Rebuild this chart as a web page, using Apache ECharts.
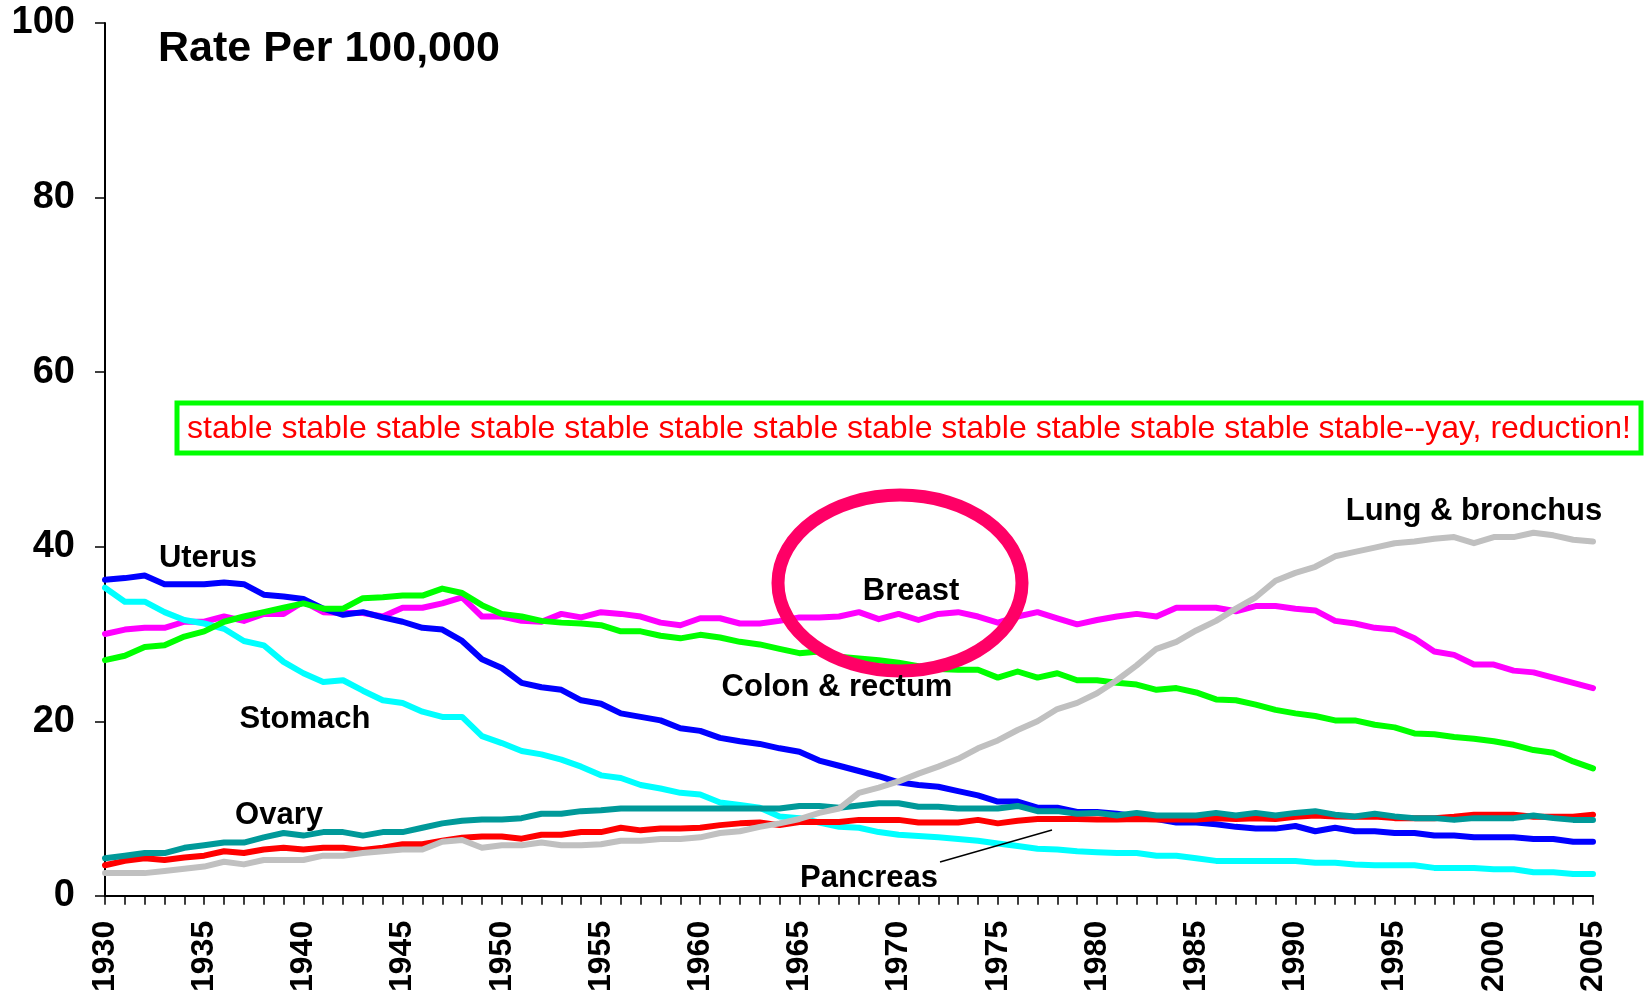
<!DOCTYPE html>
<html>
	<head>
		<meta charset="utf-8">
		<title>Rate Per 100,000</title>
		<script src="https://cdn.jsdelivr.net/npm/echarts/dist/echarts.min.js"></script>
		<style>
			body { margin: 0; background: #fff; }
			#main { width: 1645px; height: 995px; }
		</style>
	</head>
	<body>
		<div id="main"></div>
	</body>
<script>
	// categories (years) and series values
	var years = ['1930','1931','1932','1933','1934','1935','1936','1937','1938','1939','1940','1941','1942','1943','1944','1945','1946','1947','1948','1949','1950','1951','1952','1953','1954','1955','1956','1957','1958','1959','1960','1961','1962','1963','1964','1965','1966','1967','1968','1969','1970','1971','1972','1973','1974','1975','1976','1977','1978','1979','1980','1981','1982','1983','1984','1985','1986','1987','1988','1989','1990','1991','1992','1993','1994','1995','1996','1997','1998','1999','2000','2001','2002','2003','2004','2005'];
	var yTicks = [0, 20, 40, 60, 80, 100];

	var uterus = [36.2,36.4,36.7,35.7,35.7,35.7,35.9,35.7,34.5,34.3,34.0,32.9,32.2,32.5,31.9,31.4,30.7,30.5,29.2,27.1,26.1,24.4,23.9,23.6,22.4,22.0,20.9,20.5,20.1,19.2,18.9,18.1,17.7,17.4,16.9,16.5,15.5,14.9,14.3,13.7,13.0,12.7,12.5,12.0,11.5,10.8,10.8,10.1,10.1,9.6,9.6,9.4,9.1,8.8,8.4,8.4,8.2,7.9,7.7,7.7,8.0,7.4,7.8,7.4,7.4,7.2,7.2,6.9,6.9,6.7,6.7,6.7,6.5,6.5,6.2,6.2];
	var stomach = [35.3,33.7,33.7,32.5,31.6,31.2,30.6,29.2,28.7,26.8,25.5,24.5,24.7,23.5,22.4,22.1,21.1,20.5,20.5,18.3,17.5,16.6,16.2,15.6,14.8,13.8,13.5,12.7,12.3,11.8,11.6,10.7,10.4,10.1,9.1,8.9,8.4,7.9,7.8,7.3,7.0,6.85,6.7,6.5,6.3,6.0,5.7,5.4,5.3,5.1,5.0,4.9,4.9,4.6,4.6,4.3,4.0,4.0,4.0,4.0,4.0,3.8,3.8,3.6,3.5,3.5,3.5,3.2,3.2,3.2,3.05,3.05,2.7,2.7,2.5,2.5];
	var breast = [30.0,30.5,30.7,30.7,31.4,31.4,32.0,31.5,32.3,32.3,33.7,32.5,32.4,32.4,32.0,33.0,33.0,33.5,34.2,32.0,32.0,31.5,31.4,32.3,31.9,32.5,32.3,32.0,31.3,31.0,31.8,31.8,31.2,31.2,31.5,31.9,31.9,32.0,32.5,31.7,32.3,31.6,32.3,32.5,32.0,31.3,32.0,32.5,31.8,31.1,31.6,32.0,32.3,32.0,33.0,33.0,33.0,32.6,33.2,33.2,32.9,32.7,31.5,31.2,30.7,30.5,29.5,28.0,27.6,26.5,26.5,25.8,25.6,25.0,24.4,23.8];
	var colon = [27.0,27.5,28.5,28.7,29.7,30.3,31.4,32.0,32.5,33.0,33.5,32.9,32.9,34.1,34.2,34.4,34.4,35.2,34.7,33.3,32.3,32.0,31.5,31.3,31.2,31.0,30.3,30.3,29.8,29.5,29.9,29.6,29.1,28.8,28.3,27.8,28.0,27.4,27.2,27.0,26.7,26.3,26.0,25.9,25.9,25.0,25.7,25.0,25.5,24.7,24.7,24.4,24.2,23.6,23.8,23.3,22.5,22.4,21.9,21.3,20.9,20.6,20.1,20.1,19.6,19.3,18.6,18.5,18.2,18.0,17.7,17.3,16.7,16.4,15.4,14.6];
	var lung = [2.6,2.6,2.6,2.85,3.1,3.35,3.9,3.6,4.1,4.1,4.1,4.6,4.6,4.9,5.1,5.3,5.3,6.2,6.4,5.5,5.8,5.8,6.1,5.8,5.8,5.9,6.3,6.3,6.5,6.5,6.7,7.2,7.4,7.9,8.3,8.8,9.5,10.0,11.8,12.4,13.1,14.0,14.8,15.7,16.9,17.8,19.0,20.0,21.4,22.1,23.2,24.7,26.4,28.3,29.1,30.4,31.5,32.9,34.2,36.1,37.0,37.7,38.9,39.4,39.9,40.4,40.6,40.9,41.1,40.4,41.1,41.1,41.6,41.3,40.8,40.6];
	var ovary = [4.3,4.6,4.9,4.9,5.5,5.8,6.1,6.1,6.7,7.2,6.9,7.3,7.3,6.9,7.3,7.3,7.8,8.3,8.6,8.75,8.75,8.9,9.4,9.4,9.7,9.8,10.0,10.0,10.0,10.0,10.0,10.0,10.0,10.0,10.0,10.3,10.3,10.1,10.35,10.6,10.6,10.2,10.2,10.0,10.0,10.0,10.3,9.7,9.7,9.4,9.5,9.2,9.5,9.2,9.2,9.2,9.5,9.2,9.5,9.2,9.5,9.7,9.3,9.1,9.4,9.1,8.9,8.9,8.7,8.9,8.9,8.9,9.2,8.9,8.7,8.7];
	var pancreas = [3.5,4.0,4.3,4.1,4.4,4.6,5.1,4.9,5.3,5.5,5.3,5.5,5.5,5.25,5.5,5.9,5.9,6.3,6.65,6.8,6.8,6.55,7.0,7.0,7.3,7.3,7.8,7.5,7.7,7.7,7.8,8.1,8.3,8.4,8.1,8.45,8.45,8.45,8.7,8.7,8.7,8.4,8.4,8.4,8.7,8.3,8.6,8.8,8.8,8.8,8.75,8.75,8.8,8.75,8.75,8.75,8.9,8.8,8.9,8.8,9.05,9.2,9.1,9.05,9.1,8.9,8.9,8.9,9.05,9.3,9.3,9.3,9.05,9.05,9.05,9.3];

	var FONT = '"Liberation Sans", Arial, sans-serif';

	function makeLine(name, data, color) {
		return {
			name: name,
			type: 'line',
			data: data,
			symbol: 'none',
			silent: true,
			lineStyle: { color: color, width: 6, cap: 'round', join: 'round' }
		};
	}

	// annotation text (series names on the plot)
	function label(text, x, y, size, weight, color) {
		return {
			type: 'text', z: 100, x: x, y: y,
			style: {
				text: text, fill: color || '#000', font: (weight || 'bold') + ' ' + (size || 31) + 'px ' + FONT,
				textAlign: 'center', textVerticalAlign: 'middle'
			}
		};
	}

	var myChart = echarts.init(document.getElementById('main'));
	var option = {
		animation: false,
		backgroundColor: '#fff',
		grid: { left: 105, right: 52, top: 23, bottom: 95 },
		xAxis: {
			type: 'category',
			data: years,
			boundaryGap: false,
			axisLine: { lineStyle: { color: '#000', width: 2 } },
			axisTick: { show: true, interval: 0, length: 9, lineStyle: { color: '#000', width: 1.5 } },
			axisLabel: {
				interval: 4, rotate: 90, margin: 25, color: '#000',
				fontSize: 32, fontWeight: 'bold', fontFamily: FONT
			},
			splitLine: { show: false }
		},
		yAxis: {
			type: 'value',
			min: yTicks[0],
			max: yTicks[yTicks.length - 1],
			interval: 20,
			axisLine: { show: true, lineStyle: { color: '#000', width: 2 } },
			axisTick: { show: true, length: 10, lineStyle: { color: '#000', width: 1.5 } },
			axisLabel: { margin: 30, color: '#000', fontSize: 38, fontWeight: 'bold', fontFamily: FONT },
			splitLine: { show: false }
		},
		series: [
			makeLine('Breast', breast, '#ff00ff'),
			makeLine('Uterus', uterus, '#0000ff'),
			makeLine('Stomach', stomach, '#00ffff'),
			makeLine('Colon & rectum', colon, '#00ff00'),
			makeLine('Pancreas', pancreas, '#ff0000'),
			makeLine('Ovary', ovary, '#009999'),
			makeLine('Lung & bronchus', lung, '#c0c0c0')
		],
		graphic: [
			{
				type: 'text', z: 100, x: 158, y: 49,
				style: { text: 'Rate Per 100,000', fill: '#000', font: 'bold 43px ' + FONT, textAlign: 'left', textVerticalAlign: 'middle' }
			},
			// green box with the red remark
			{
				type: 'rect', z: 100,
				shape: { x: 177, y: 403, width: 1464, height: 50 },
				style: { fill: '#fff', stroke: '#00ff00', lineWidth: 5 }
			},
			label('stable stable stable stable stable stable stable stable stable stable stable stable stable--yay, reduction!', 909, 429, 32, 'normal', '#ff0000'),
			// circle round the breast line
			{
				type: 'ellipse', z: 100,
				shape: { cx: 900, cy: 583, rx: 122, ry: 88 },
				style: { fill: 'none', stroke: '#ff0066', lineWidth: 13 }
			},
			// pointer to pancreas line
			{
				type: 'line', z: 100,
				shape: { x1: 940, y1: 862, x2: 1052, y2: 830 },
				style: { stroke: '#000', lineWidth: 1.5 }
			},
			label('Uterus', 208, 558),
			label('Stomach', 305, 719),
			label('Ovary', 279, 815),
			label('Breast', 911, 591),
			label('Colon & rectum', 837, 687),
			label('Pancreas', 869, 878),
			label('Lung & bronchus', 1474, 511)
		]
	};
	myChart.setOption(option);
</script>
</html>
